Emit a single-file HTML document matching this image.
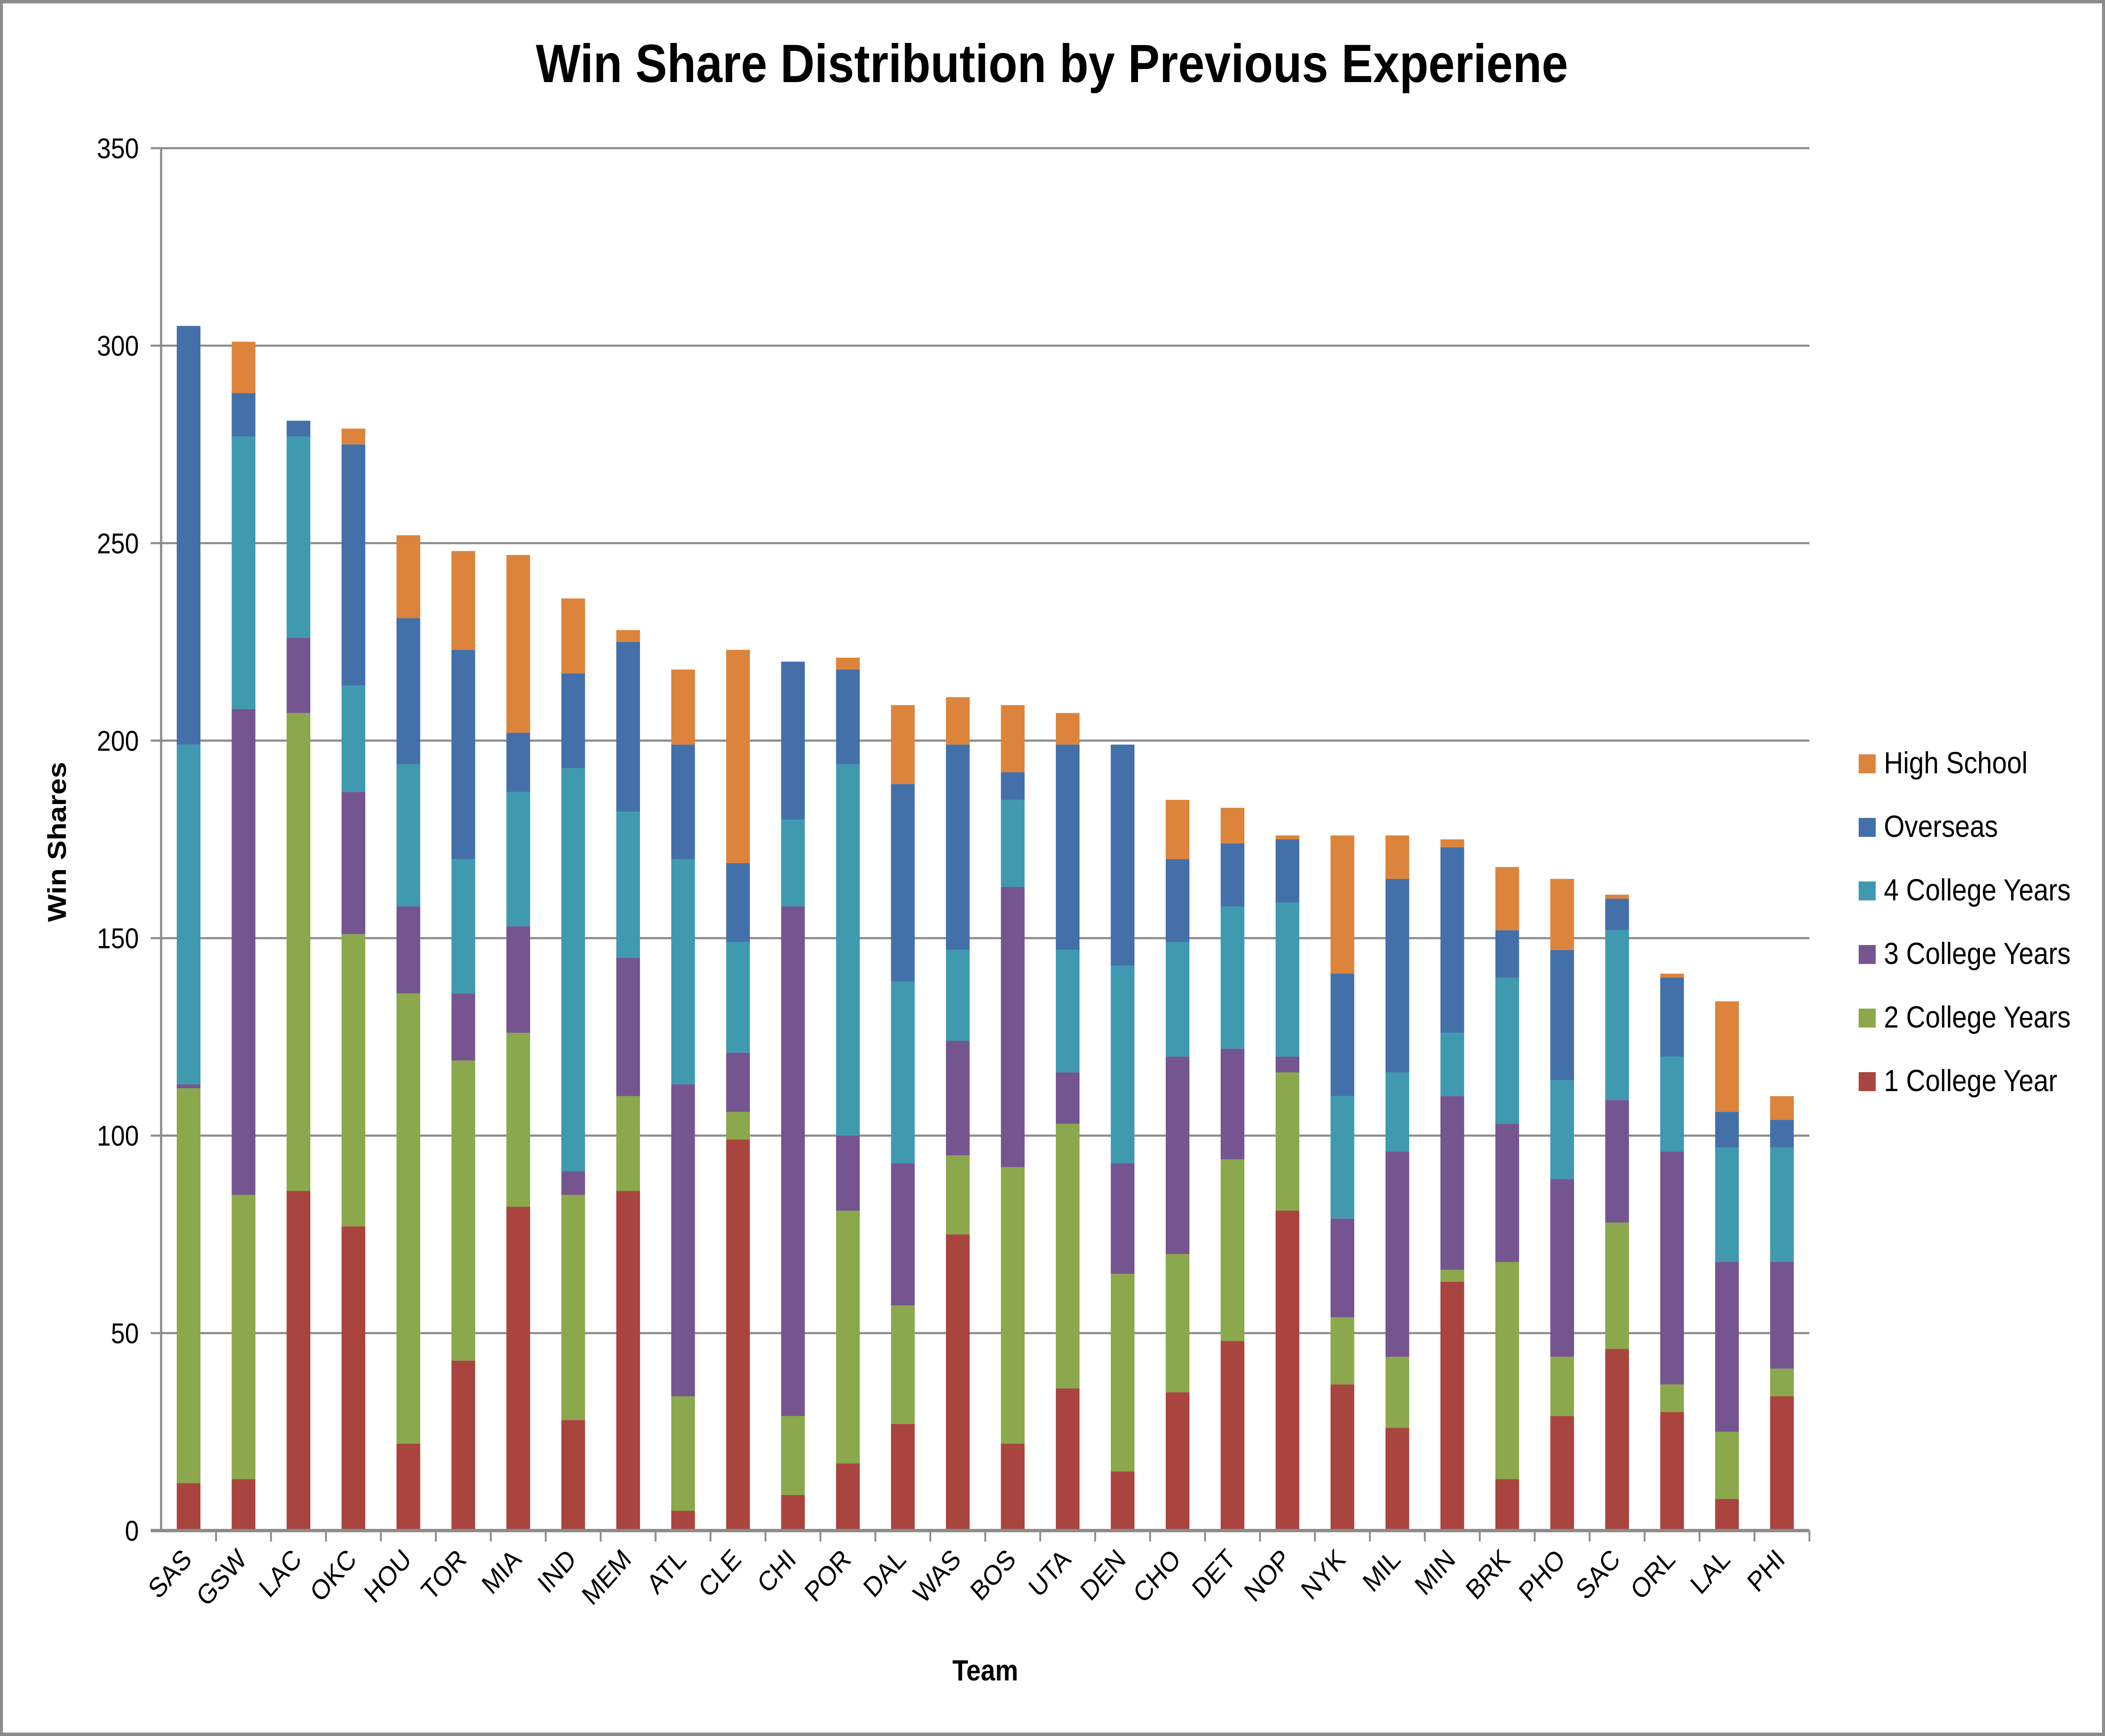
<!DOCTYPE html>
<html><head><meta charset="utf-8"><style>html,body{margin:0;padding:0;background:#fff;width:100%;height:100%;overflow:hidden}svg{display:block;width:100vw;height:100vh}</style></head>
<body>
<svg xmlns="http://www.w3.org/2000/svg" viewBox="0 0 5683 4124" preserveAspectRatio="none" font-family="'Liberation Sans', sans-serif">
<rect x="4" y="4" width="5675" height="4116" fill="#fff" stroke="#8c8c8c" stroke-width="8"/>
<text x="2840" y="195" text-anchor="middle" font-size="128" font-weight="bold">Win Share Distribution by Previous Experiene</text>
<g id="grid"></g><g id="bars"></g><g id="axes"></g><g id="legend"></g>
<text transform="translate(178,2000) rotate(-90)" text-anchor="middle" font-size="70" font-weight="bold">Win Shares</text>
<text x="2660" y="3992" text-anchor="middle" font-size="70" font-weight="bold">Team</text>
</svg>
<script>
const teams=["SAS","GSW","LAC","OKC","HOU","TOR","MIA","IND","MEM","ATL","CLE","CHI","POR","DAL","WAS","BOS","UTA","DEN","CHO","DET","NOP","NYK","MIL","MIN","BRK","PHO","SAC","ORL","LAL","PHI"];
const oneYear=[12,13,86,77,22,43,82,28,86,5,99,9,17,27,75,22,36,15,35,48,81,37,26,63,13,29,46,30,8,34];
const twoYears=[100,72,121,74,114,76,44,57,24,29,7,20,64,30,20,70,67,50,35,46,35,17,18,3,55,15,32,7,17,7];
const threeYears=[1,123,19,36,22,17,27,6,35,79,15,129,19,36,29,71,13,28,50,28,4,25,52,44,35,45,31,59,43,27];
const fourYears=[86,69,51,27,36,34,34,102,37,57,28,22,94,46,23,22,31,50,29,36,39,31,20,16,37,25,43,24,29,29];
const overseas=[106,11,4,61,37,53,15,24,43,29,20,40,24,50,52,7,52,56,21,16,16,31,49,47,12,33,8,20,9,7];
const highSchool=[0,13,0,4,21,25,45,19,3,19,54,0,3,20,12,17,8,0,15,9,1,35,11,2,16,18,1,1,28,6];
const yTicks=[0,50,100,150,200,250,300,350];
const seriesNames=["1 College Year","2 College Years","3 College Years","4 College Years","Overseas","High School"];
const seriesData=[oneYear,twoYears,threeYears,fourYears,overseas,highSchool];
const colors=["#A9443F","#8BA84C","#75558F","#3F9AB0","#4470AA","#DC843C"];
const NS="http://www.w3.org/2000/svg";
const L=435,R=4885,Y0=3636,Y1=352,MAX=350;
const y=v=>Y0-(v/MAX)*(Y0-Y1);
const step=(R-L)/teams.length;
const xc=i=>L+step*(i+0.5);
function mk(t,a,p){const e=document.createElementNS(NS,t);for(const k in a)e.setAttribute(k,a[k]);p.appendChild(e);return e;}
const grid=document.getElementById('grid'),bars=document.getElementById('bars'),axes=document.getElementById('axes'),leg=document.getElementById('legend');
yTicks.forEach(t=>{
 if(t>0){const g=mk('line',{x1:L,x2:R,y1:y(t),y2:y(t),stroke:'#8c8c8c','stroke-width':5},grid);
 
 }
 const tl=mk('text',{x:L-60,y:y(t)+24,'text-anchor':'end','font-size':68},axes);tl.textContent=t;
 
 
 mk('line',{x1:L-28,x2:L,y1:y(t),y2:y(t),stroke:'#8c8c8c','stroke-width':5},axes);
});
mk('line',{x1:L,x2:L,y1:Y1,y2:Y0,stroke:'#8c8c8c','stroke-width':6},axes);
mk('line',{x1:L-28,x2:R,y1:Y0,y2:Y0,stroke:'#8c8c8c','stroke-width':8},axes);
teams.forEach((tm,i)=>{
 let cum=0;
 seriesData.forEach((s,k)=>{
  const v=s[i];if(v>0){const r=mk('rect',{x:xc(i)-32,y:y(cum+v),width:64,height:y(cum)-y(cum+v),fill:colors[k]},bars);
  
  }
  cum+=v;
 });
 mk('line',{x1:L+step*(i+1),x2:L+step*(i+1),y1:Y0,y2:Y0+26,stroke:'#8c8c8c','stroke-width':5},axes);
 const t=mk('text',{transform:`translate(${xc(i)+12},${Y0+72}) rotate(-45)`,'text-anchor':'end','font-size':66},axes);t.textContent=tm;
 
 
});
for(let j=0;j<6;j++){
 const k=5-j,yy=1792+j*151;
 const g=mk('g',{},leg);
 
 
 mk('rect',{x:5018,y:yy,width:46,height:45,fill:colors[k]},g);
 const t=mk('text',{x:5086,y:yy+45,'font-size':72},g);t.textContent=seriesNames[k];
}
</script>
</body></html>
